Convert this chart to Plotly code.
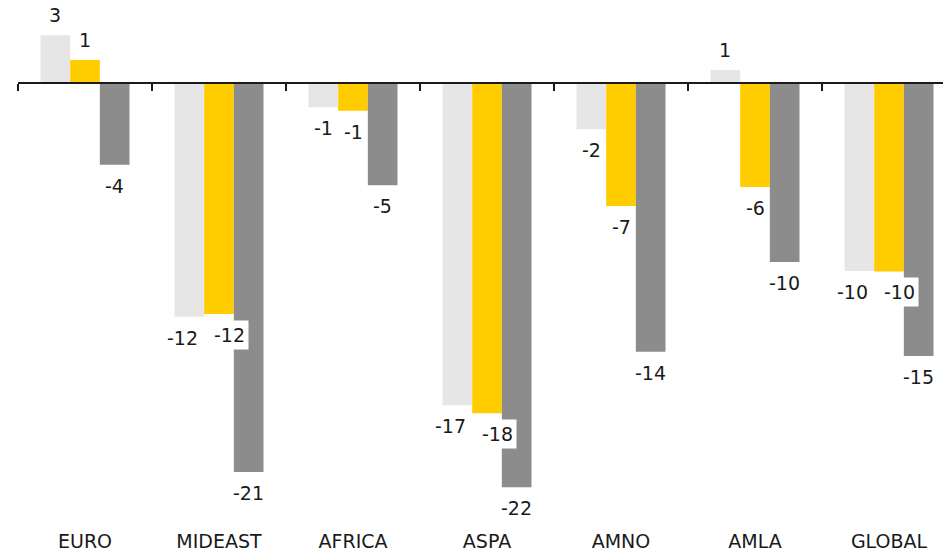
import plotly.graph_objects as go

categories = ["EURO", "MIDEAST", "AFRICA", "ASPA", "AMNO", "AMLA", "GLOBAL"]
series_a = [2.57, -12.48, -1.28, -17.22, -2.46, 0.71, -10.04]
series_b = [1.25, -12.34, -1.47, -17.65, -6.56, -5.55, -10.06]
series_c = [-4.35, -20.79, -5.45, -21.60, -14.35, -9.56, -14.58]

colors = ["#E6E6E6", "#FFCC00", "#8C8C8C"]
FONT = "DejaVu Sans"
TXT = "#1a1a1a"

W, H = 943, 553
ML, MR, MT, MB = 18, 0, 0, 33
BARGAP = 0.336
plot_w = W - ML - MR
plot_h = H - MT - MB
cat_px = 134.0
x_hi = -0.5 + plot_w / cat_px
y_top = 4.454
y_bot = -23.353
px_per_unit = plot_h / (y_top - y_bot)
zero_pos = (0 - y_bot) / (y_top - y_bot)
bar_px = cat_px * (1 - BARGAP) / 3

fig = go.Figure()
all_series = [series_a, series_b, series_c]
for s, col in zip(all_series, colors):
    fig.add_trace(go.Bar(x=categories, y=s, marker=dict(color=col, line=dict(width=0)),
                         showlegend=False, hoverinfo="skip"))

# invisible helper on the zero-line axis
fig.add_trace(go.Scatter(x=categories, y=[0] * len(categories), xaxis="x2", mode="markers",
                         marker=dict(opacity=0), showlegend=False, hoverinfo="skip"))

annotations = []
for j, cat in enumerate(categories):
    vals = [s[j] for s in all_series]
    texts = [str(int(round(v))) for v in vals]
    widths = [len(t) * 11 + 6 for t in texts]
    nudges = [0, 0, 0]
    # resolve collision of the first two labels
    if vals[0] < 0 and vals[1] < 0 and abs(vals[0] - vals[1]) * px_per_unit < 24:
        if (widths[0] + widths[1]) / 2 > bar_px:
            nudges[0] = -7
            nudges[1] = 10
    for i, v in enumerate(vals):
        annotations.append(dict(
            x=cat, y=v, xref="x", yref="y",
            text=texts[i], showarrow=False,
            xshift=(i - 1) * bar_px + nudges[i],
            yanchor="bottom" if v >= 0 else "top",
            yshift=5 if v >= 0 else -6,
            bgcolor="white", borderpad=3,
            font=dict(family=FONT, size=19, color=TXT),
        ))

fig.update_layout(
    width=W, height=H,
    margin=dict(l=ML, r=MR, t=MT, b=MB, autoexpand=False),
    paper_bgcolor="white", plot_bgcolor="white",
    barmode="group", bargap=BARGAP, bargroupgap=0,
    annotations=annotations,
    xaxis=dict(type="category", categoryorder="array", categoryarray=categories,
               range=[-0.5, x_hi], showline=False, ticks="", showgrid=False,
               zeroline=False, ticklabelstandoff=8,
               tickfont=dict(family=FONT, size=19, color=TXT)),
    xaxis2=dict(type="category", categoryorder="array", categoryarray=categories,
                range=[-0.5, x_hi], overlaying="x", anchor="free", position=zero_pos,
                side="bottom", showline=True, linecolor=TXT, linewidth=2,
                ticks="outside", tickson="boundaries", ticklen=7, tickwidth=2,
                tickcolor=TXT, showticklabels=False, showgrid=False, zeroline=False),
    yaxis=dict(range=[y_bot, y_top], visible=False, showgrid=False, zeroline=False),
)

fig.write_html("out.html")
